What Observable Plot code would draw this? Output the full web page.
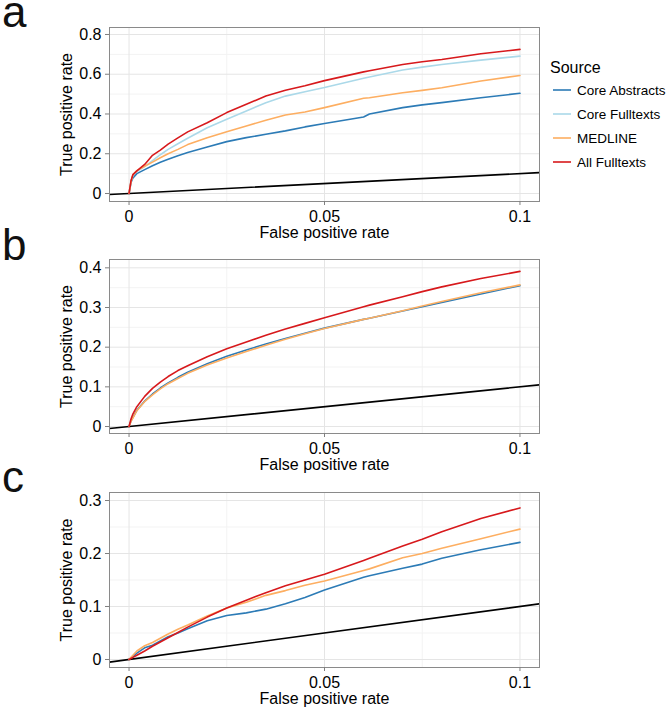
<!DOCTYPE html>
<html>
<head>
<meta charset="utf-8">
<script src="https://cdn.jsdelivr.net/npm/d3@7"></script>
<script src="https://cdn.jsdelivr.net/npm/@observablehq/plot@0.6"></script>
<style>
  html, body { margin: 0; padding: 0; background: #fff; }
  body { width: 668px; height: 709px; position: relative; overflow: hidden;
         font-family: "Liberation Sans", Arial, Helvetica, sans-serif; }
  .panel { position: absolute; left: 0; }
  #overlay { position: absolute; left: 0; top: 0; }
</style>
</head>
<body>
<div id="pa" class="panel" style="top:0px"></div>
<div id="pb" class="panel" style="top:232px"></div>
<div id="pc" class="panel" style="top:465px"></div>
<svg id="overlay" width="668" height="709"></svg>
<script>
// ---------- data ----------
const fpr = [0, 0.0005, 0.001, 0.002, 0.004, 0.006, 0.008, 0.01, 0.0125, 0.015, 0.02, 0.025, 0.03, 0.035, 0.04, 0.045, 0.05, 0.06, 0.0615, 0.07, 0.075, 0.08, 0.09, 0.1];

const sources = ["Core Abstracts", "Core Fulltexts", "MEDLINE", "All Fulltexts"];
const sourceColors = ["#2c7bb6", "#abd9e9", "#fdae61", "#d7191c"];
const panelLetters = ["a", "b", "c"];

// panel a
const aCoreAbstracts = [0, 0.055, 0.078, 0.1, 0.12, 0.14, 0.157, 0.172, 0.19, 0.206, 0.234, 0.261, 0.281, 0.298, 0.315, 0.335, 0.352, 0.385, 0.4, 0.432, 0.446, 0.457, 0.482, 0.504];
const aCoreFulltexts = [0, 0.06, 0.092, 0.11, 0.135, 0.165, 0.195, 0.222, 0.25, 0.278, 0.331, 0.374, 0.415, 0.457, 0.49, 0.512, 0.533, 0.58, 0.586, 0.621, 0.636, 0.649, 0.671, 0.691];
const aMedline = [0, 0.06, 0.095, 0.115, 0.137, 0.158, 0.18, 0.2, 0.222, 0.246, 0.281, 0.311, 0.34, 0.368, 0.395, 0.41, 0.432, 0.479, 0.482, 0.507, 0.519, 0.532, 0.566, 0.594];
const aAllFulltexts = [0, 0.064, 0.095, 0.114, 0.146, 0.192, 0.218, 0.248, 0.28, 0.31, 0.356, 0.407, 0.449, 0.49, 0.519, 0.542, 0.568, 0.612, 0.618, 0.649, 0.663, 0.674, 0.703, 0.725];

// panel b
const bCoreAbstracts = [0, 0.014, 0.023, 0.041, 0.064, 0.082, 0.097, 0.11, 0.124, 0.137, 0.158, 0.177, 0.193, 0.208, 0.222, 0.235, 0.248, 0.27, 0.273, 0.291, 0.302, 0.313, 0.334, 0.355];
const bMedline = [0, 0.013, 0.022, 0.04, 0.063, 0.08, 0.095, 0.108, 0.121, 0.134, 0.155, 0.173, 0.189, 0.205, 0.22, 0.234, 0.247, 0.27, 0.273, 0.292, 0.304, 0.315, 0.337, 0.357];
const bAllFulltexts = [0, 0.019, 0.032, 0.05, 0.076, 0.096, 0.112, 0.126, 0.141, 0.153, 0.176, 0.196, 0.213, 0.23, 0.246, 0.26, 0.274, 0.302, 0.306, 0.327, 0.34, 0.352, 0.373, 0.391];

// panel c
const cCoreAbstracts = [0, 0.003, 0.006, 0.012, 0.022, 0.027, 0.035, 0.043, 0.05, 0.058, 0.073, 0.083, 0.088, 0.095, 0.105, 0.117, 0.131, 0.155, 0.158, 0.172, 0.18, 0.191, 0.207, 0.221];
const cMedline = [0, 0.004, 0.008, 0.016, 0.026, 0.032, 0.04, 0.048, 0.057, 0.065, 0.082, 0.097, 0.108, 0.121, 0.13, 0.14, 0.148, 0.168, 0.171, 0.192, 0.2, 0.21, 0.228, 0.246];
const cAllFulltexts = [0, 0.002, 0.004, 0.008, 0.016, 0.025, 0.033, 0.041, 0.051, 0.061, 0.08, 0.097, 0.112, 0.126, 0.139, 0.15, 0.161, 0.187, 0.191, 0.214, 0.227, 0.241, 0.266, 0.286];

// axes
const xDomain = [-0.005, 0.105];
const xTicks = [0, 0.05, 0.1];
const xMinor = [0.025, 0.075];
const aYDomain = [-0.0403, 0.8352];
const aYTicks = [0, 0.2, 0.4, 0.6, 0.8];
const aYMinor = [0.1, 0.3, 0.5, 0.7];
const bYDomain = [-0.0176, 0.421];
const bYTicks = [0, 0.1, 0.2, 0.3, 0.4];
const bYMinor = [0.05, 0.15, 0.25, 0.35];
const cYDomain = [-0.0151, 0.3151];
const cYTicks = [0, 0.1, 0.2, 0.3];
const cYMinor = [0.05, 0.15, 0.25];

const xLabel = "False positive rate";
const yLabel = "True positive rate";
const legendTitle = "Source";

// ---------- build ----------
function rows(series) {
  return series.flatMap(([source, values]) =>
    values.map((v, i) => ({source, fpr: fpr[i], tpr: v})));
}

const panels = [
  {el: "pa", h: 244, yDomain: aYDomain, yTicks: aYTicks, yMinor: aYMinor,
   data: rows([["Core Abstracts", aCoreAbstracts], ["Core Fulltexts", aCoreFulltexts], ["MEDLINE", aMedline], ["All Fulltexts", aAllFulltexts]])},
  {el: "pb", h: 244, yDomain: bYDomain, yTicks: bYTicks, yMinor: bYMinor,
   data: rows([["Core Abstracts", bCoreAbstracts], ["MEDLINE", bMedline], ["All Fulltexts", bAllFulltexts]])},
  {el: "pc", h: 244, yDomain: cYDomain, yTicks: cYTicks, yMinor: cYMinor,
   data: rows([["Core Abstracts", cCoreAbstracts], ["MEDLINE", cMedline], ["All Fulltexts", cAllFulltexts]])}
];
const frameHeights = [174, 174, 175];

const fmt = d => String(d);
const font = '"Liberation Sans", Arial, Helvetica, sans-serif';

panels.forEach((p, k) => {
  const chart = Plot.plot({
    width: 668, height: p.h,
    marginLeft: 109, marginRight: 129, marginTop: 27, marginBottom: p.h - 27 - frameHeights[k],
    style: {fontFamily: font, fontSize: "16px", background: "transparent", color: "black", overflow: "visible"},
    x: {domain: xDomain, label: null},
    y: {domain: p.yDomain, label: null},
    color: {domain: sources, range: sourceColors},
    marks: [
      Plot.ruleX(xMinor, {stroke: "#f3f3f3", strokeWidth: 1}),
      Plot.ruleY(p.yMinor, {stroke: "#f3f3f3", strokeWidth: 1}),
      Plot.ruleX(xTicks, {stroke: "#e5e5e5", strokeWidth: 1}),
      Plot.ruleY(p.yTicks, {stroke: "#e5e5e5", strokeWidth: 1}),
      Plot.line(xDomain, {x: d => d, y: d => d, stroke: "black", strokeWidth: 1.6, clip: true}),
      Plot.line(p.data, {x: "fpr", y: "tpr", z: "source", stroke: "source", strokeWidth: 1.6, clip: true}),
      Plot.frame({stroke: "#8a8a8a", strokeWidth: 1}),
      Plot.axisX({ticks: xTicks, tickFormat: fmt, tickSize: 4, tickPadding: 5, stroke: "#7f7f7f", fill: "black", label: null}),
      Plot.axisY({ticks: p.yTicks, tickFormat: fmt, tickSize: 4, tickPadding: 4, stroke: "#7f7f7f", fill: "black", label: null}),
      Plot.text([xLabel], {text: d => d, frameAnchor: "bottom", dy: 31, textAnchor: "middle", lineAnchor: "middle", fontSize: 16, fill: "black"}),
      Plot.text([yLabel], {text: d => d, frameAnchor: "left", dx: -43, rotate: -90, textAnchor: "middle", lineAnchor: "middle", fontSize: 16, fill: "black"})
    ]
  });
  document.getElementById(p.el).appendChild(chart);
});

// ---------- overlay: panel letters and legend ----------
const ov = d3.select("#overlay");
const letterBaselines = [27, 260, 492];
panelLetters.forEach((l, i) => {
  ov.append("text").attr("x", 2).attr("y", letterBaselines[i])
    .attr("font-size", 44).attr("font-family", font)
    .attr("fill", "#111").text(l);
});
const lg = ov.append("g").attr("font-family", font);
lg.append("text").attr("x", 550).attr("y", 73).attr("font-size", 16).attr("fill", "black").text(legendTitle);
sources.forEach((s, i) => {
  const cy = 90 + i * 24;
  lg.append("line").attr("x1", 553).attr("x2", 571).attr("y1", cy).attr("y2", cy)
    .attr("stroke", sourceColors[i]).attr("stroke-width", 1.6);
  lg.append("text").attr("x", 577).attr("y", cy + 4.7).attr("font-size", 13.5).attr("fill", "black").text(s);
});
</script>
</body>
</html>
